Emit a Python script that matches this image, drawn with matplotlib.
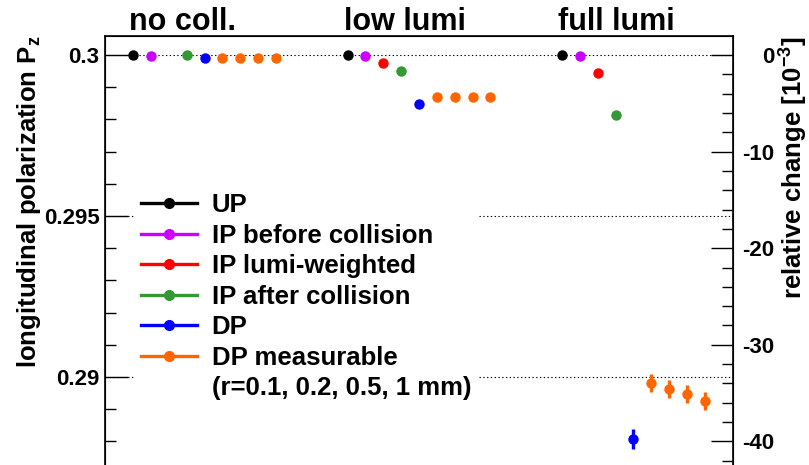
import numpy as np
import matplotlib
matplotlib.use("Agg")
import matplotlib.pyplot as plt
from matplotlib.lines import Line2D
from matplotlib.ticker import MultipleLocator, FuncFormatter

matplotlib.rcParams['font.family'] = 'Liberation Sans'
matplotlib.rcParams['font.weight'] = 'bold'
matplotlib.rcParams['axes.labelweight'] = 'bold'
matplotlib.rcParams['mathtext.fontset'] = 'custom'
matplotlib.rcParams['mathtext.rm'] = 'Liberation Sans:bold'
matplotlib.rcParams['mathtext.it'] = 'Liberation Sans:bold'
matplotlib.rcParams['mathtext.bf'] = 'Liberation Sans:bold'
matplotlib.rcParams['mathtext.default'] = 'bf'
matplotlib.rcParams['axes.unicode_minus'] = False

P0 = 0.3

scenarios = ["no coll.", "low lumi", "full lumi"]

series_labels = ["UP", "IP before collision", "IP lumi-weighted",
                 "IP after collision", "DP", "DP measurable"]
series_colors = ["#000000", "#cc00ff", "#ff0000", "#339933", "#0000ff", "#ff6600"]

# longitudinal polarisation per scenario (no coll., low lumi, full lumi)
pz_up = [0.30000, 0.30000, 0.30000]
pz_ip_before = [0.29998, 0.29998, 0.29998]
pz_ip_lumi = [np.nan, 0.29976, 0.29943]
pz_ip_after = [0.30000, 0.29951, 0.29814]
pz_dp = [0.29992, 0.29849, 0.28807]
pz_dp_r01 = [0.29991, 0.29871, 0.28980]
pz_dp_r02 = [0.29991, 0.29871, 0.28962]
pz_dp_r05 = [0.29991, 0.29871, 0.28946]
pz_dp_r1 = [0.29991, 0.29869, 0.28924]

err_dp = [0.0, 0.0, 0.00030]
err_dp_meas = [0.0, 0.0, 0.00028]

# (values, errors, colour index) in drawing order inside each scenario block
points = [
    (pz_up, None, 0),
    (pz_ip_before, None, 1),
    (pz_ip_lumi, None, 2),
    (pz_ip_after, None, 3),
    (pz_dp, err_dp, 4),
    (pz_dp_r01, err_dp_meas, 5),
    (pz_dp_r02, err_dp_meas, 5),
    (pz_dp_r05, err_dp_meas, 5),
    (pz_dp_r1, err_dp_meas, 5),
]

block = 12

fig = plt.figure(figsize=(8.09, 4.65), dpi=100)
ax = fig.add_axes([105/809., 0.0, 628/809., 429/465.])

for g in range(len(scenarios)):
    for i, (vals, errs, c) in enumerate(points):
        y = vals[g]
        if np.isnan(y):
            continue
        e = 0.0 if errs is None else errs[g]
        ax.errorbar([g*block + i], [y], yerr=[e] if e > 0 else None,
                    fmt='o', color=series_colors[c], ms=7.5, mew=0,
                    elinewidth=2.4, capsize=0, zorder=3)

ax.set_xlim(-1.57, 33.57)
ax.set_ylim(0.287267, 0.30059)

ax.yaxis.set_major_locator(MultipleLocator(0.005))
ax.yaxis.set_minor_locator(MultipleLocator(0.001))
ax.yaxis.set_major_formatter(FuncFormatter(lambda v, p: "%g" % round(v, 4)))
ax.tick_params(axis='y', which='both', direction='in', left=True, right=False,
               labelsize=16, pad=4, width=1.0)
ax.tick_params(axis='y', which='major', length=16.5)
ax.tick_params(axis='y', which='minor', length=8)
ax.tick_params(axis='x', which='both', bottom=False, top=False, labelbottom=False)
ax.yaxis.grid(True, which='major', linestyle=(0, (1.2, 2.2)), color='black', linewidth=0.8)
ax.spines['bottom'].set_visible(False)
for s in ['left', 'top', 'right']:
    ax.spines[s].set_linewidth(1.2)

ax.set_ylabel(r"longitudinal polarization P$_{z}$", fontsize=18.5, loc='top')
ax.yaxis.set_label_coords(-0.098, 1.0)

# relative change axis in units of 1e-3
ax2 = ax.twinx()
lo, hi = ax.get_ylim()
ax2.set_ylim((lo/P0 - 1)*1000, (hi/P0 - 1)*1000)
ax2.yaxis.set_major_locator(MultipleLocator(10))
ax2.yaxis.set_minor_locator(MultipleLocator(2))
ax2.yaxis.set_major_formatter(FuncFormatter(lambda v, p: "%d" % round(v)))
ax2.tick_params(axis='y', which='both', direction='in', labelsize=16, pad=30, width=1.0)
ax2.tick_params(axis='y', which='major', length=16)
ax2.tick_params(axis='y', which='minor', length=8)
for lab in ax2.get_yticklabels():
    lab.set_horizontalalignment('right')
ax2.spines['bottom'].set_visible(False)
ax2.set_ylabel(r"relative change [10$^{-3}$]", fontsize=18.5, loc='top')
ax2.yaxis.set_label_coords(1.071, 1.0)

for g, name in enumerate(scenarios):
    ax.text(g*block - 0.2, 1.014, name, transform=ax.get_xaxis_transform(),
            fontsize=22, ha='left', va='baseline')

handles = [Line2D([], [], color=c, marker='o', ms=7, lw=2.4) for c in series_colors]
labels = list(series_labels)
handles.append(Line2D([], [], linestyle='none'))
labels.append("(r=0.1, 0.2, 0.5, 1 mm)")
leg = fig.legend(handles, labels, loc='upper left', bbox_to_anchor=(135/809., 1 - 187/465.),
                 fontsize=18.5, frameon=True, fancybox=False, framealpha=1.0,
                 edgecolor='white', handlelength=2.18, handletextpad=0.55,
                 labelspacing=0.25, borderpad=0.25, borderaxespad=0.0)
leg.set_zorder(5)

plt.savefig("out.png", dpi=100)
plt.close()
